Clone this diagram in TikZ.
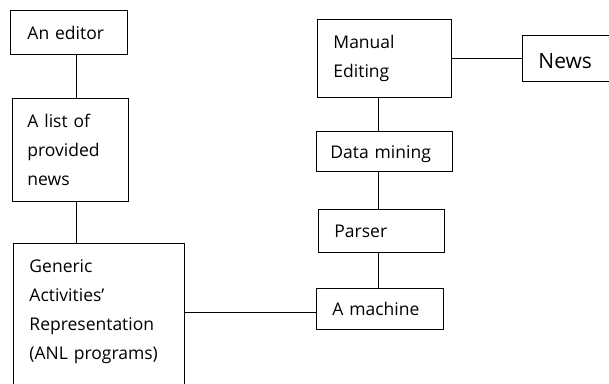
\documentclass[tikz,border=0pt]{standalone}
\usepackage{fontspec}
\setmainfont{Open Sans}
\usetikzlibrary{positioning}

\begin{document}
\begin{tikzpicture}[
      x=1pt, y=-1pt,
      box/.style={rectangle, draw=black, line width=0.9pt, anchor=north west, align=left, inner ysep=0pt, font=\fontsize{17.5}{29}\selectfont},
      onebox/.style={box, text height=14pt, text depth=0pt},
      link/.style={draw=black, line width=0.9pt}
    ]
      \useasboundingbox (0,0) rectangle (609,383);
      \clip (0,0) rectangle (609,383);

      \node[onebox, text width=83pt, inner xsep=17pt, minimum height=44pt] (editor) at (10,10) {An editor};
      \node[box, text width=86pt, inner xsep=15pt, minimum height=103pt] (list) at (12,98) {A list of\\provided\\news};
      \node[box, text width=139pt, inner xsep=16pt, inner ysep=16pt, text depth=140pt] (generic) at (13,243) {Generic\\Activities'\\Representation\\(ANL programs)};

      \node[box, text width=102pt, inner xsep=16pt, minimum height=78pt] (manual) at (317,19) {Manual\\Editing};
      \node[onebox, text width=66pt, inner xsep=16pt, minimum height=46pt, text height=20pt, font=\fontsize{21}{25}\selectfont] (news) at (522,35) {News};
      \node[onebox, text width=108pt, inner xsep=14pt, minimum height=40pt] (mining) at (316,131) {Data mining};
      \node[onebox, text width=94pt, inner xsep=16pt, minimum height=43pt] (parser) at (318,209) {Parser};
      \node[onebox, text width=95pt, inner xsep=16pt, minimum height=41pt] (machine) at (316,288) {A machine};

      \draw[link] ([xshift=7.5pt]editor.south) -- ([xshift=7.5pt]editor.south |- list.north);
      \draw[link] ([xshift=6pt]list.south) -- ([xshift=6pt]list.south |- generic.north);
      \draw[link] (machine.west |- 0,312) -- (generic.east |- 0,312);
      \draw[link] (manual.east) -- (manual.east -| news.west);
      \draw[link] ([xshift=-6pt]manual.south) -- ([xshift=-6pt]manual.south |- mining.north);
      \draw[link] ([xshift=-6pt]mining.south) -- ([xshift=-6pt]mining.south |- parser.north);
      \draw[link] ([xshift=-3pt]parser.south) -- ([xshift=-3pt]parser.south |- machine.north);
    \end{tikzpicture}
\end{document}
